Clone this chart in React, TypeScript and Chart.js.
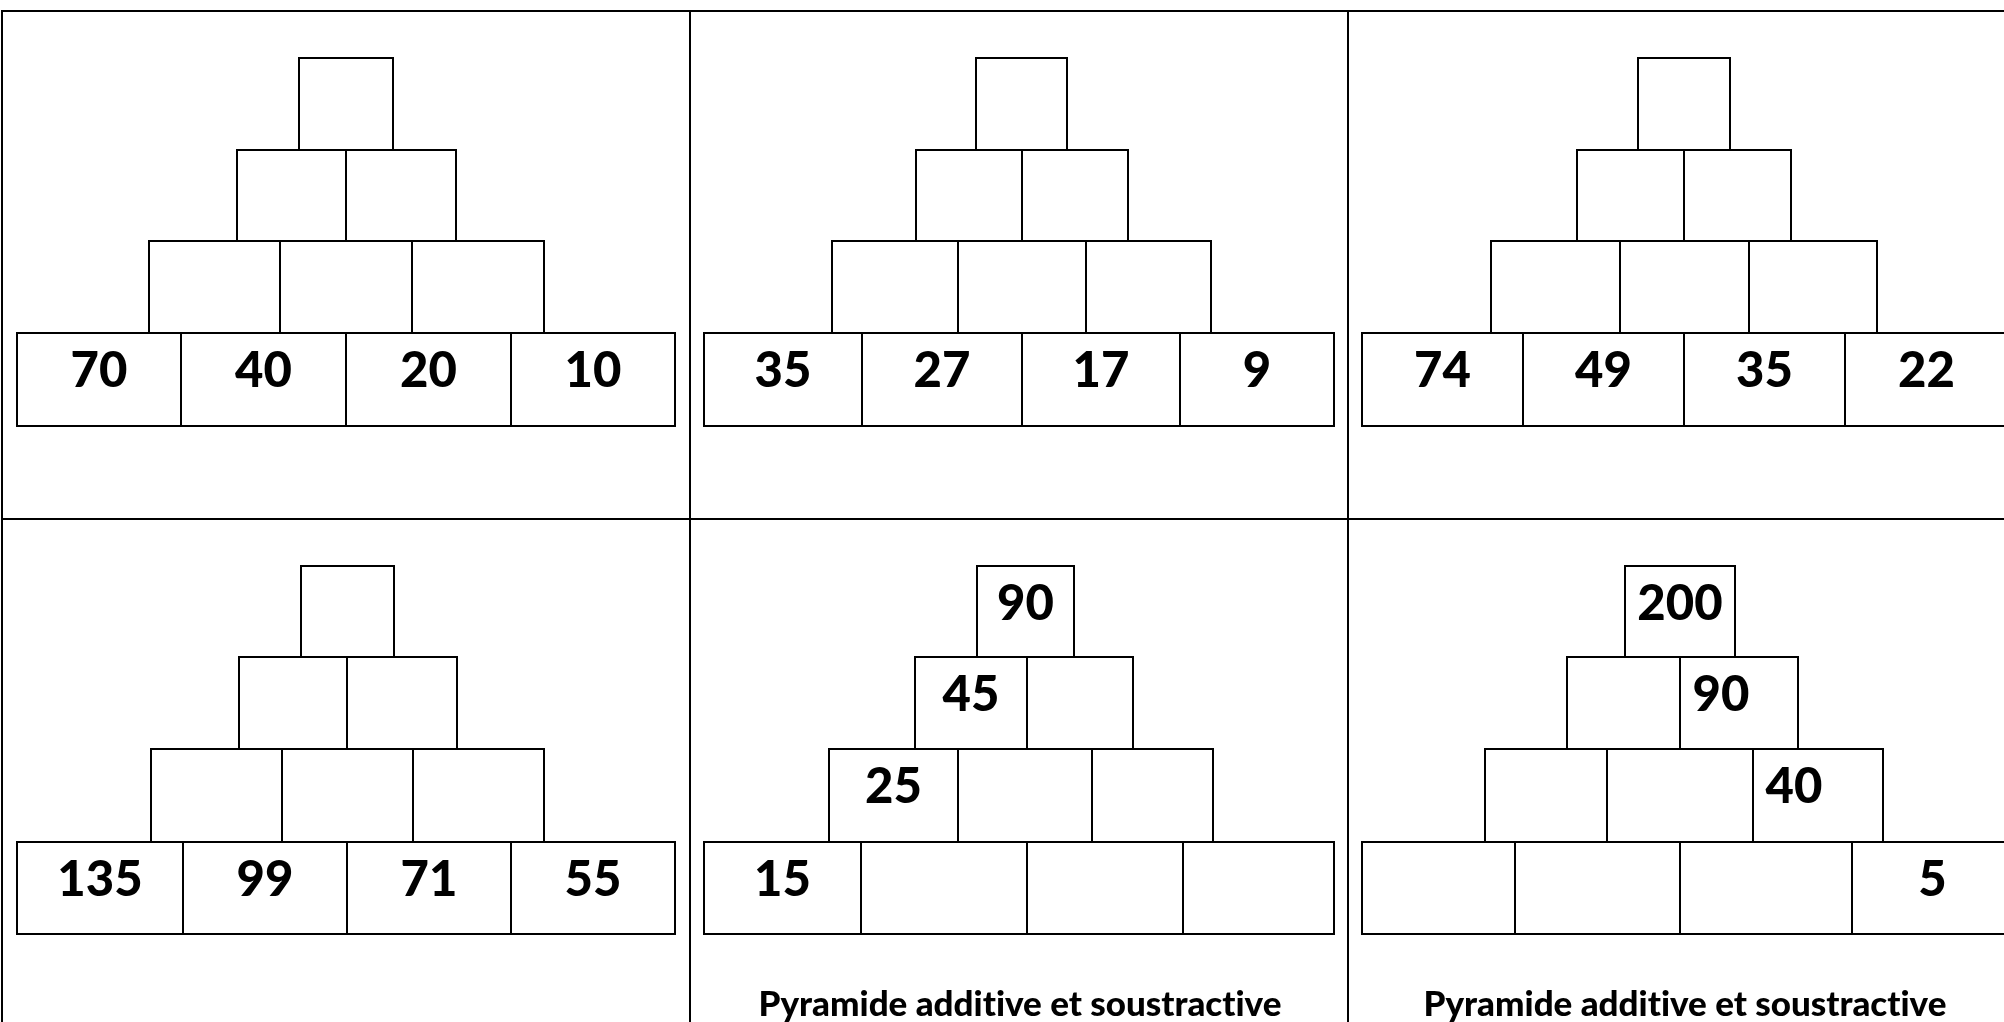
import React, { useEffect, useRef } from "react";
import { Chart, registerables } from "chart.js";

Chart.register(...registerables);

// ---------- DATA (values shown in the pyramids; null = empty cell) ----------
// Each pyramid: rows from top (1 cell) to bottom (4 cells)
const P1_TOP: (number | null)[] = [null];
const P1_ROW2: (number | null)[] = [null, null];
const P1_ROW3: (number | null)[] = [null, null, null];
const P1_BASE: (number | null)[] = [70, 40, 20, 10];

const P2_TOP: (number | null)[] = [null];
const P2_ROW2: (number | null)[] = [null, null];
const P2_ROW3: (number | null)[] = [null, null, null];
const P2_BASE: (number | null)[] = [35, 27, 17, 9];

const P3_TOP: (number | null)[] = [null];
const P3_ROW2: (number | null)[] = [null, null];
const P3_ROW3: (number | null)[] = [null, null, null];
const P3_BASE: (number | null)[] = [74, 49, 35, 22];

const P4_TOP: (number | null)[] = [null];
const P4_ROW2: (number | null)[] = [null, null];
const P4_ROW3: (number | null)[] = [null, null, null];
const P4_BASE: (number | null)[] = [135, 99, 71, 55];

const P5_TOP: (number | null)[] = [90];
const P5_ROW2: (number | null)[] = [45, null];
const P5_ROW3: (number | null)[] = [25, null, null];
const P5_BASE: (number | null)[] = [15, null, null, null];

const P6_TOP: (number | null)[] = [200];
const P6_ROW2: (number | null)[] = [null, 90];
const P6_ROW3: (number | null)[] = [null, null, 40];
const P6_BASE: (number | null)[] = [null, null, null, 5];

const TITLE = "Pyramide additive et soustractive";

const PYRAMID_VALUES = [
  [P1_TOP, P1_ROW2, P1_ROW3, P1_BASE],
  [P2_TOP, P2_ROW2, P2_ROW3, P2_BASE],
  [P3_TOP, P3_ROW2, P3_ROW3, P3_BASE],
  [P4_TOP, P4_ROW2, P4_ROW3, P4_BASE],
  [P5_TOP, P5_ROW2, P5_ROW3, P5_BASE],
  [P6_TOP, P6_ROW2, P6_ROW3, P6_BASE],
];
const PYRAMID_TITLES: (string | null)[] = [null, null, null, null, TITLE, TITLE];

// ---------- LAYOUT (page units on the linear scales) ----------
const PAGE_W = 2004;
const PAGE_H = 1022;
const FRAME_X = [2, 690, 1348];
const FRAME_Y = [11, 519];
const ROW_Y_TOP = [58, 150, 241, 333, 426];
const ROW_Y_BOTTOM = [566, 657, 749, 842, 934];
// cell edges per row, per pyramid
const EDGES = [
  [[299, 393], [237, 346, 456], [149, 280, 412, 544], [17, 181, 346, 511, 675]],
  [[976, 1067], [916, 1022, 1128], [832, 958, 1086, 1211], [704, 862, 1022, 1180, 1334]],
  [[1638, 1730], [1577, 1684, 1791], [1491, 1620, 1749, 1877], [1362, 1523, 1684, 1845, 2008]],
  [[301, 394], [239, 347, 457], [151, 282, 413, 544], [17, 183, 347, 511, 675]],
  [[977, 1074], [915, 1027, 1133], [829, 958, 1092, 1213], [704, 861, 1027, 1183, 1334]],
  [[1625, 1735], [1567, 1680, 1798], [1485, 1607, 1753, 1883], [1362, 1515, 1680, 1852, 2013]],
];
const LABEL_SHIFT: Record<string, number> = { "5-1-1": -18, "5-2-2": -24 };
const TITLE_X = [0, 0, 0, 0, 1020, 1685];
const TITLE_BASELINE = 1016;

const pyramidPlugin = {
  id: "pyramids",
  afterDraw(chart: any) {
    const { ctx } = chart;
    const xs = chart.scales.x;
    const ys = chart.scales.y;
    const px = (v: number) => xs.getPixelForValue(v);
    const py = (v: number) => ys.getPixelForValue(v);
    ctx.save();
    try {
      (ctx as any).textRendering = "optimizeSpeed";
    } catch (e) {}
    ctx.strokeStyle = "#000";
    ctx.lineWidth = 2;
    // frame lines
    ctx.beginPath();
    FRAME_X.forEach((x) => {
      ctx.moveTo(px(x), py(FRAME_Y[0] - 1));
      ctx.lineTo(px(x), py(PAGE_H));
    });
    FRAME_Y.forEach((y) => {
      ctx.moveTo(px(FRAME_X[0] - 1), py(y));
      ctx.lineTo(px(PAGE_W), py(y));
    });
    ctx.stroke();

    PYRAMID_VALUES.forEach((rows, p) => {
      const rowY = p < 3 ? ROW_Y_TOP : ROW_Y_BOTTOM;
      rows.forEach((vals, r) => {
        const edges = EDGES[p][r];
        const y0 = rowY[r];
        const y1 = rowY[r + 1];
        for (let c = 0; c < edges.length - 1; c++) {
          const x0 = edges[c];
          const x1 = edges[c + 1];
          ctx.lineWidth = 2;
          ctx.strokeRect(px(x0), py(y0), px(x1) - px(x0), py(y1) - py(y0));
          const v = vals[c];
          if (v !== null && v !== undefined) {
            ctx.fillStyle = "#000";
            ctx.font = "900 49px Lato";
            ctx.textAlign = "center";
            ctx.textBaseline = "alphabetic";
            const shift = LABEL_SHIFT[`${p}-${r}-${c}`] || 0;
            ctx.fillText(String(v), px((x0 + x1) / 2 + shift), py(y0 + 54));
          }
        }
      });
      const t = PYRAMID_TITLES[p];
      if (t) {
        ctx.fillStyle = "#000";
        ctx.font = "900 35px Lato";
        ctx.textAlign = "center";
        ctx.textBaseline = "alphabetic";
        ctx.fillText(t, px(TITLE_X[p]), py(TITLE_BASELINE));
      }
    });
    ctx.restore();
  },
};

export default function App() {
  const ref = useRef<HTMLCanvasElement | null>(null);
  useEffect(() => {
    if (!ref.current) return;
    const chart = new Chart(ref.current, {
      type: "scatter",
      data: { datasets: [{ data: [], pointRadius: 0 }] },
      options: {
        animation: false,
        responsive: true,
        maintainAspectRatio: false,
        layout: { padding: 0 },
        plugins: { legend: { display: false }, tooltip: { enabled: false } },
        scales: {
          x: { type: "linear", min: 0, max: PAGE_W, display: false },
          y: { type: "linear", min: 0, max: PAGE_H, reverse: true, display: false },
        },
      },
      plugins: [pyramidPlugin],
    });
    return () => chart.destroy();
  }, []);
  return (
    <div style={{ position: "fixed", left: 0, top: 0, width: PAGE_W, height: PAGE_H, background: "#fff" }}>
      <canvas ref={ref} />
    </div>
  );
}
